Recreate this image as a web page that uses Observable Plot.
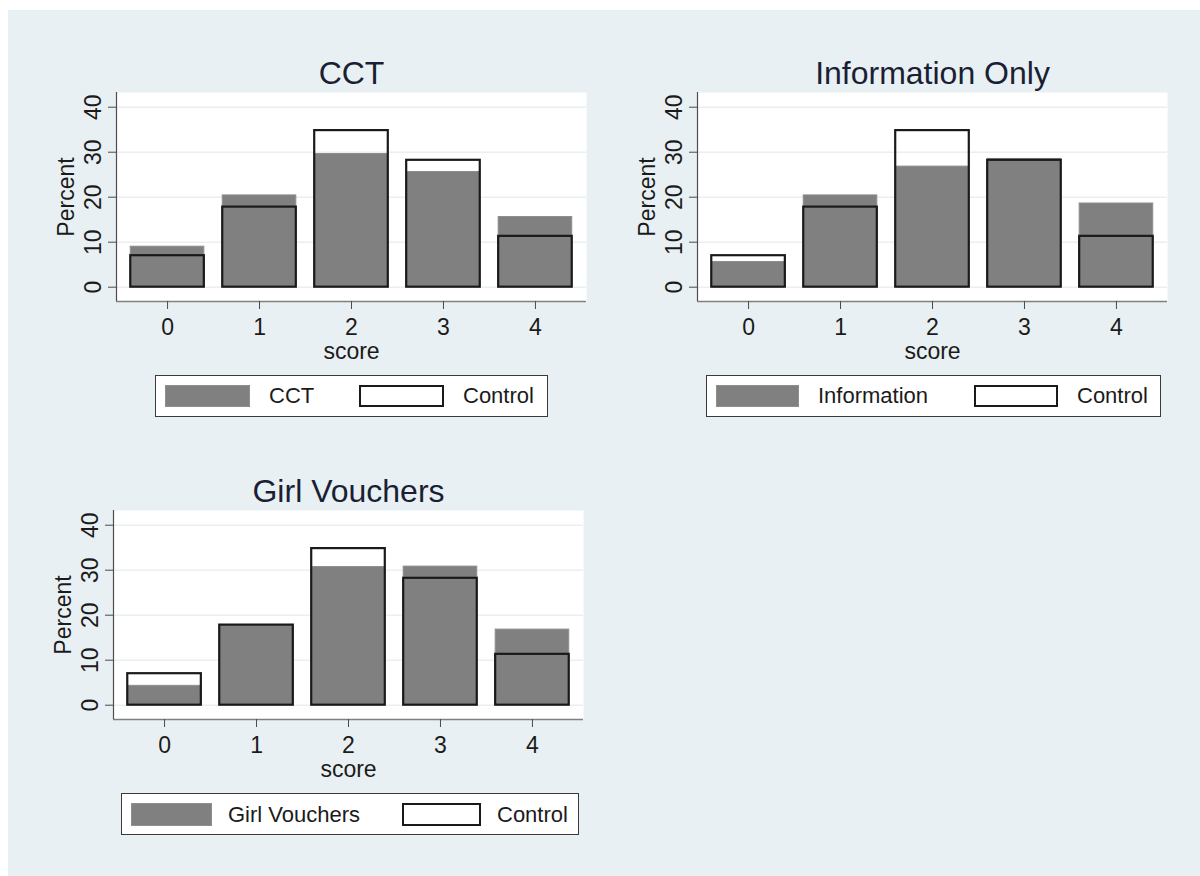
<!DOCTYPE html>
<html><head><meta charset="utf-8">
<script src="https://cdn.jsdelivr.net/npm/d3@7"></script>
<script src="https://cdn.jsdelivr.net/npm/@observablehq/plot@0.6"></script>
<style>
html,body{margin:0;padding:0;background:#fff;}
#page{position:relative;width:1200px;height:876px;overflow:hidden;font-family:"Liberation Sans",Arial,sans-serif;}
#bg{position:absolute;left:8px;top:10px;right:0;bottom:0;background:#e9f0f3;}
.panel{position:absolute;}
.legend{position:absolute;background:#fff;border:1.5px solid #3a3a3a;box-sizing:border-box;}
.sw{position:absolute;box-sizing:border-box;}
.lt{position:absolute;font-size:22px;line-height:22px;color:#1b1b1b;white-space:nowrap;}
</style></head><body><div id="page"><div id="bg"></div></div>
<script>
// ---- data ----
const scores = [0, 1, 2, 3, 4];
const yTicks = [0, 10, 20, 30, 40];
const controlPct = [7.0, 17.8, 34.8, 28.2, 11.3];
const cctPct = [9.0, 20.4, 29.6, 25.6, 15.6];
const infoPct = [5.6, 20.4, 26.8, 28.5, 18.6];
const girlPct = [4.3, 17.8, 30.7, 30.8, 16.8];
const panelTitles = ["CCT", "Information Only", "Girl Vouchers"];
const legendNames = ["CCT", "Information", "Girl Vouchers"];
const controlName = "Control";
const xLabel = "score";
const yLabel = "Percent";

// ---- layout ----
const FONT = '"Liberation Sans", Arial, sans-serif';
const mL = 70, mT = 60, mR = 10, mB = 70, W = 470, H = 209;
const xDom = [-0.555, 4.555], yDom = [-3.18, 43.27];
const page = document.getElementById("page");

function panel(title, treat, frameLeft, frameTop) {
  const rows = scores.map((s, i) => ({score: s, treat: treat[i], control: controlPct[i]}));
  const svg = Plot.plot({
    width: mL + W + mR, height: mT + H + mB,
    marginLeft: mL, marginTop: mT, marginRight: mR, marginBottom: mB,
    x: {domain: xDom},
    y: {domain: yDom},
    style: {background: "transparent", fontFamily: FONT, color: "#1b1b1b", overflow: "visible", maxWidth: "none"},
    marks: [
      Plot.frame({fill: "white", stroke: "none"}),
      Plot.ruleY(yTicks, {stroke: "#e9f0f3", strokeWidth: 1.5}),
      Plot.rect(rows, {x1: d => d.score - 0.4, x2: d => d.score + 0.4, y1: 0, y2: "treat",
        fill: "#808080", stroke: "#8e8e8e", strokeWidth: 1}),
      Plot.rect(rows, {x1: d => d.score - 0.4, x2: d => d.score + 0.4, y1: 0, y2: "control",
        fill: "none", stroke: "#1a1a1a", strokeWidth: 2.2}),
      Plot.ruleY([yDom[0]], {stroke: "#808080", strokeWidth: 1.5}),
      Plot.ruleX([xDom[0]], {stroke: "#4d4d4d", strokeWidth: 1.2}),
      Plot.axisX({ticks: scores, tickFormat: d => String(d), tickSize: 8, tickPadding: 9, fontSize: 23, label: null, stroke: "#4a4a4a"}),
      Plot.axisY({ticks: yTicks, tickFormat: d => String(d), tickSize: 8, tickPadding: 8, tickRotate: -90, fontSize: 23, label: null, stroke: "#4a4a4a"}),
      Plot.text([yLabel], {frameAnchor: "left", textAnchor: "middle", dx: -50, rotate: -90, fontSize: 23}),
      Plot.text([xLabel], {frameAnchor: "bottom", dy: 57, lineAnchor: "bottom", fontSize: 23}),
      Plot.text([title], {frameAnchor: "top", dy: -9, lineAnchor: "bottom", fontSize: 32, fill: "#1a1f33"})
    ]
  });
  const div = document.createElement("div");
  div.className = "panel";
  div.style.left = (frameLeft - mL) + "px";
  div.style.top = (frameTop - mT) + "px";
  div.style.width = (mL + W + mR) + "px";
  div.appendChild(svg);
  page.appendChild(div);
}

function box(cls, l, t, r, b, extra) {
  const d = document.createElement("div");
  d.className = cls;
  d.style.left = l + "px"; d.style.top = t + "px";
  d.style.width = (r - l) + "px"; d.style.height = (b - t) + "px";
  Object.assign(d.style, extra || {});
  page.appendChild(d);
  return d;
}
function label(text, x, baseline) {
  const s = document.createElement("div");
  s.className = "lt";
  s.textContent = text;
  s.style.left = x + "px";
  s.style.top = (baseline - 18.6) + "px";
  page.appendChild(s);
}
function legend(name, g) {
  box("legend", ...g.box);
  box("sw", ...g.sw1, {background: "#808080", border: "1px solid #8e8e8e"});
  label(name, g.t1, g.base);
  box("sw", ...g.sw2, {background: "#fff", border: "2px solid #1a1a1a"});
  label(controlName, g.t2, g.base);
}

panel(panelTitles[0], cctPct, 116, 92);
panel(panelTitles[1], infoPct, 697, 92);
panel(panelTitles[2], girlPct, 113, 510);

legend(legendNames[0], {box: [155, 375, 548, 417], sw1: [165, 385, 250, 407], t1: 269, sw2: [359, 385, 444, 407], t2: 463, base: 404});
legend(legendNames[1], {box: [706, 375, 1161, 417], sw1: [716, 385, 799, 407], t1: 818, sw2: [974, 385, 1058, 407], t2: 1077, base: 404});
legend(legendNames[2], {box: [121, 793, 579, 835], sw1: [131, 803, 212, 826], t1: 228, sw2: [402, 803, 481, 826], t2: 497, base: 823});
</script>
</body></html>
